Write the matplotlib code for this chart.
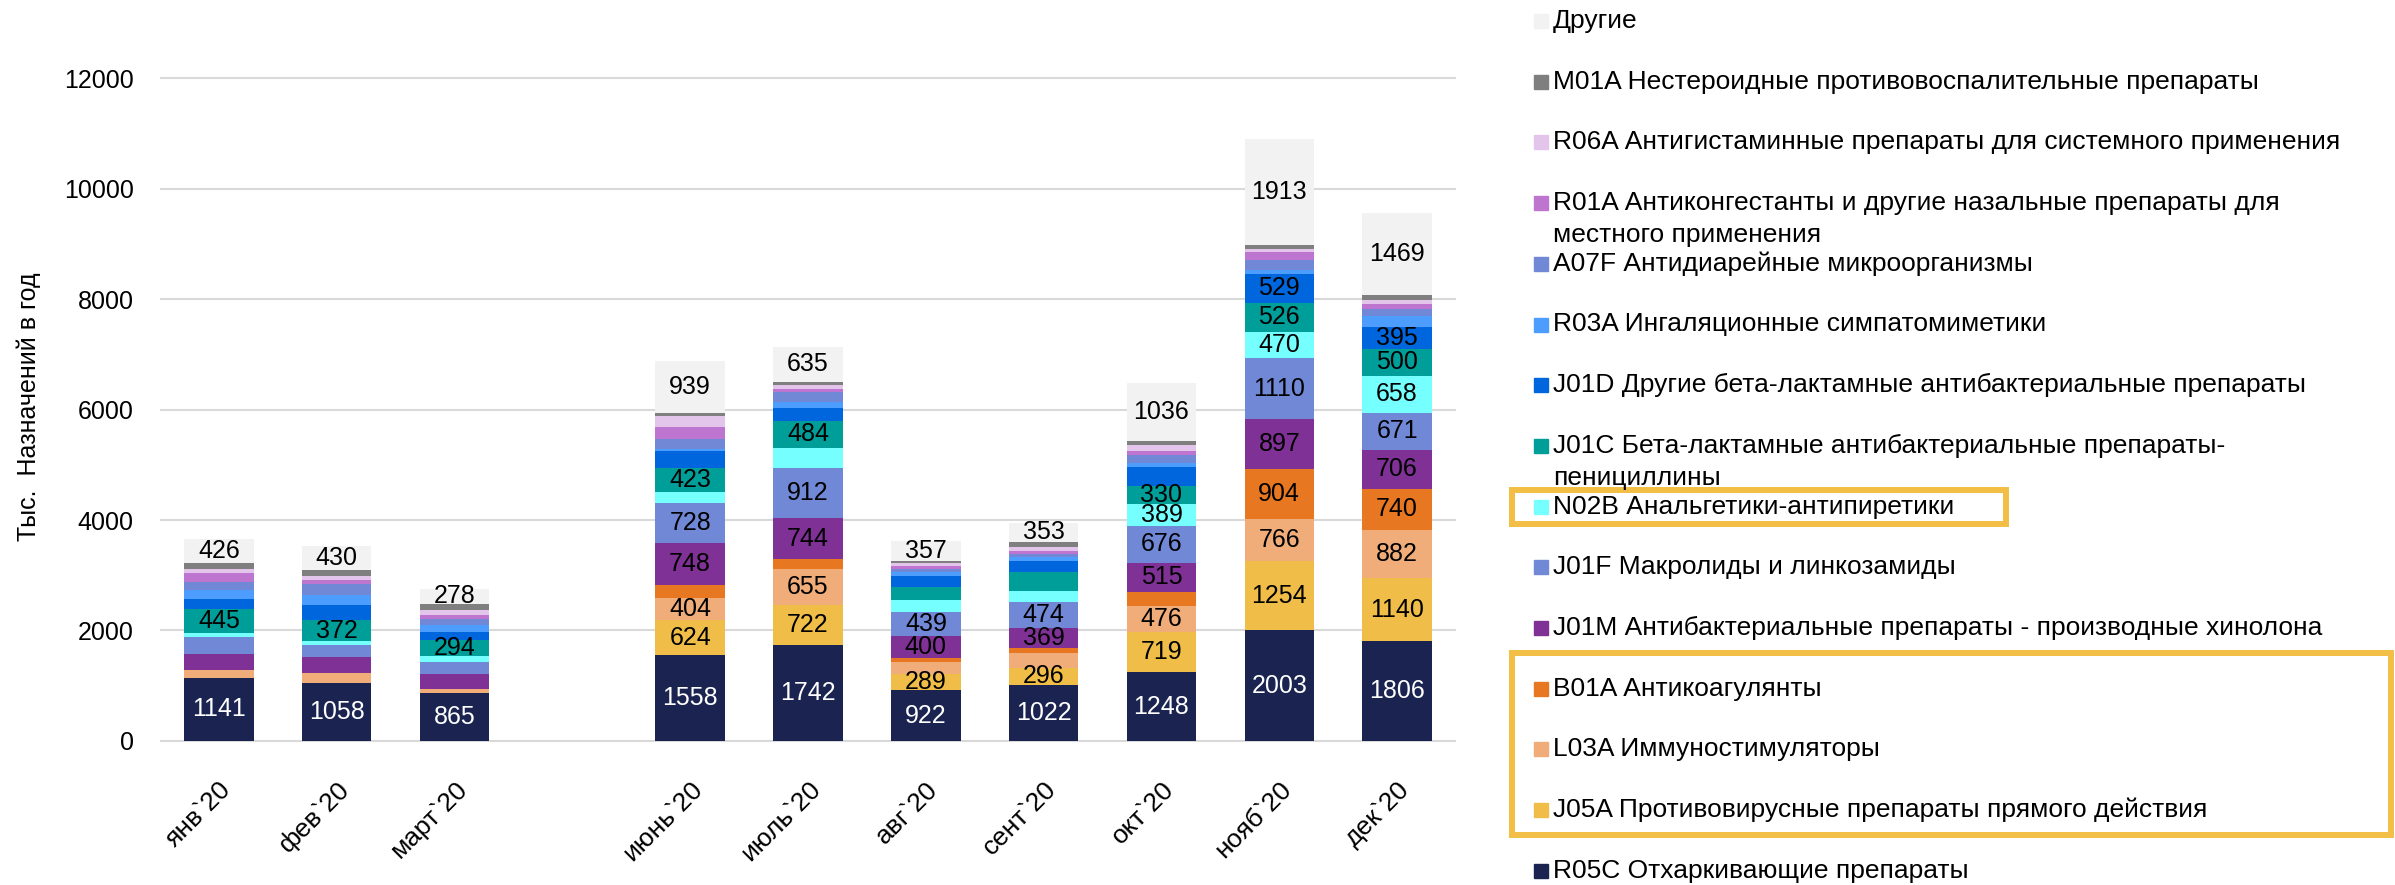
import numpy as np
import matplotlib.pyplot as plt
from matplotlib.patches import Rectangle

plt.rcParams['font.family'] = ['Liberation Sans', 'DejaVu Sans']

# months, the empty slot is the gap between march and june
months = ['янв`20', 'фев`20', 'март`20', '', 'июнь`20', 'июль`20', 'авг`20',
          'сент`20', 'окт`20', 'нояб`20', 'дек`20']

# values, thousand prescriptions (bottom of stack first)
r05c = [1141, 1058, 865, 0, 1558, 1742, 922, 1022, 1248, 2003, 1806]
j05a = [0, 0, 0, 0, 624, 722, 289, 296, 719, 1254, 1140]
l03a = [150, 180, 84, 0, 404, 655, 224, 266, 476, 766, 882]
b01a = [0, 0, 0, 0, 242, 169, 60, 97, 261, 904, 740]
j01m = [283, 289, 259, 0, 748, 744, 400, 369, 515, 897, 706]
j01f = [307, 205, 217, 0, 728, 912, 439, 474, 676, 1110, 671]
n02b = [66, 78, 108, 0, 211, 368, 217, 187, 389, 470, 658]
j01c = [445, 372, 294, 0, 423, 484, 242, 344, 330, 526, 500]
j01d = [187, 277, 150, 0, 314, 223, 187, 205, 345, 529, 395]
r03a = [157, 187, 114, 0, 42, 115, 80, 72, 79, 66, 186]
a07f = [150, 187, 114, 0, 175, 181, 60, 54, 133, 174, 132]
r01a = [150, 72, 78, 0, 217, 48, 50, 54, 73, 150, 96]
r06a = [84, 84, 84, 0, 193, 85, 50, 80, 109, 60, 78]
m01a = [102, 102, 114, 0, 66, 54, 36, 78, 85, 66, 90]
other = [426, 430, 278, 0, 939, 635, 357, 353, 1036, 1913, 1469]

# which months carry a value label
all_m = [0, 1, 2, 4, 5, 6, 7, 8, 9, 10]
late = [4, 5, 6, 7, 8, 9, 10]

series = [
    ('R05C Отхаркивающие препараты', r05c, '#1B2450', all_m),
    ('J05A Противовирусные препараты прямого действия', j05a, '#F0BE48', late),
    ('L03A Иммуностимуляторы', l03a, '#F0AD7A', [4, 5, 8, 9, 10]),
    ('B01A Антикоагулянты', b01a, '#E87722', [9, 10]),
    ('J01M Антибактериальные препараты - производные хинолона', j01m, '#7F3196', late),
    ('J01F Макролиды и линкозамиды', j01f, '#7088D5', late),
    ('N02B Анальгетики-антипиретики', n02b, '#75FFFE', [8, 9, 10]),
    ('J01C Бета-лактамные антибактериальные препараты-\nпенициллины', j01c, '#009E99', [0, 1, 2, 4, 5, 8, 9, 10]),
    ('J01D Другие бета-лактамные антибактериальные препараты', j01d, '#0066DD', [9, 10]),
    ('R03A Ингаляционные симпатомиметики', r03a, '#4D9DFF', []),
    ('A07F Антидиарейные микроорганизмы', a07f, '#7088D5', []),
    ('R01A Антиконгестанты и другие назальные препараты для\nместного применения', r01a, '#BE75CF', []),
    ('R06A Антигистаминные препараты для системного применения', r06a, '#E3C5EB', []),
    ('M01A Нестероидные противовоспалительные препараты', m01a, '#7F7F7F', []),
    ('Другие', other, '#F2F2F2', all_m),
]

W, H = 2395, 885
fig = plt.figure(figsize=(W / 100, H / 100), dpi=100)
ax = fig.add_axes([160 / W, 1 - 746.5 / H, (1456 - 160) / W, (746.5 - 67) / H])

x = np.arange(len(months))
bottom = np.zeros(len(months))
for name, vals, color, shown in series:
    vals = np.array(vals, dtype=float)
    bars = ax.bar(x, vals, 0.59, bottom=bottom, color=color, linewidth=0, zorder=3)
    labels = [str(int(v)) if i in shown else '' for i, v in enumerate(vals)]
    ax.bar_label(bars, labels=labels, label_type='center', fontsize=18,
                 color='white' if color == '#1B2450' else 'black', zorder=4)
    bottom += vals

ax.set_xlim(-0.5, 10.5)
ax.set_ylim(-100, 12200)
ax.set_yticks(range(0, 12001, 2000))
ax.set_xticks(x)
ax.set_xticklabels(months, rotation=45, ha='right', va='top', rotation_mode='anchor')
ax.grid(axis='y', color='#D9D9D9', lw=1.5, zorder=0)
ax.set_axisbelow(True)
for s in ax.spines.values():
    s.set_visible(False)
ax.tick_params(axis='y', length=0, pad=19, labelsize=18)
ax.tick_params(axis='x', length=0, pad=22, labelsize=19)
ax.set_ylabel('Тыс.  Назначений в год', fontsize=18)
ax.yaxis.set_label_coords(-0.092, 0.5)

# legend on the right, drawn by hand to keep Excel's spacing
y0, dy = 21, 60.7
for k, (name, vals, color, shown) in enumerate(reversed(series)):
    yc = y0 + k * dy
    fig.patches.append(Rectangle((1534 / W, 1 - (yc + 7) / H), 14 / W, 14 / H,
                                 transform=fig.transFigure, color=color))
    for j, line in enumerate(name.split('\n')):
        fig.text(1553 / W, 1 - (yc + j * 32) / H, line, fontsize=19, va='center', ha='left')

# highlight boxes
box_col = '#F2BE45'
fig.patches.append(Rectangle((1512 / W, 1 - 524 / H), (2006 - 1512) / W, (524 - 490) / H,
                             transform=fig.transFigure, fill=False, edgecolor=box_col, lw=4.3))
fig.patches.append(Rectangle((1512 / W, 1 - 835 / H), (2391 - 1512) / W, (835 - 653) / H,
                             transform=fig.transFigure, fill=False, edgecolor=box_col, lw=4.3))

fig.savefig('out.png', dpi=100)
